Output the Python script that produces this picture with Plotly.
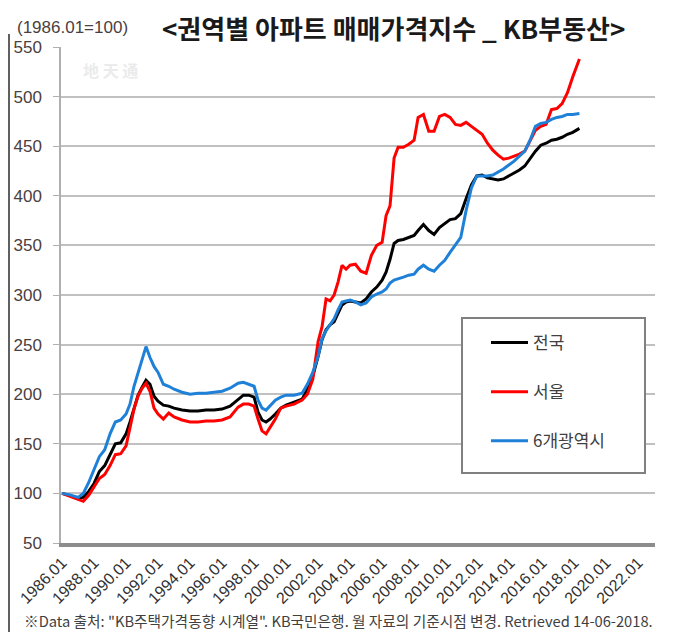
import plotly.graph_objects as go

dates = ["1986-01","1986-07","1987-01","1987-05","1987-09","1988-01","1988-05","1988-09",
         "1989-01","1989-05","1989-09","1990-01","1990-04","1990-07","1990-10","1991-01",
         "1991-04","1991-07","1991-10","1992-01","1992-05","1992-09","1993-01","1993-07",
         "1994-01","1994-07","1995-01","1995-07","1996-01","1996-07","1997-01","1997-05",
         "1997-09","1998-01","1998-04","1998-07","1998-10","1999-01","1999-05","1999-09",
         "2000-01","2000-07","2001-01","2001-05","2001-09","2002-01","2002-04","2002-07",
         "2002-10","2003-01","2003-04","2003-07","2003-10","2004-01","2004-05","2004-09",
         "2005-01","2005-05","2005-09","2006-01","2006-04","2006-07","2006-10","2007-01",
         "2007-05","2007-09","2008-01","2008-04","2008-08","2008-12","2009-04","2009-08",
         "2009-12","2010-04","2010-08","2010-12","2011-04","2011-08","2011-12","2012-04",
         "2012-08","2012-12","2013-04","2013-08","2013-12","2014-04","2014-08","2014-12",
         "2015-04","2015-08","2015-12","2016-04","2016-08","2016-12","2017-04","2017-08",
         "2017-12","2018-03","2018-05"]

national = [100,98,95.5,96,102,110,122,128,
            139,150,151,160,172,186,199,207,
            214,210,198,193,189,188,186,184,
            183,183,184,184,185,188,195,199,
            199,197,182,174,172,175,180,186,
            189,192,195,205,218,238,255,265,
            270,273,282,290,293,294,293,292,
            296,303,308,315,323,336,352,355,
            356,358,360,365,371,365,361,368,
            372,376,377,382,397,411,420,421,
            418,417,416,417,420,423,426,430,
            438,445,451,453,456,457,459,462,
            464,466,468]

seoul = [100,97,94,92,98,106,115,119,
         128,139,140,148,165,185,198,206,
         211,203,186,180,175,181,177,174,
         172,172,173,173,174,177,187,190,
         190,188,175,163,160,167,175,186,
         188,190,194,200,215,253,268,296,
         294,300,313,330,326,330,331,324,
         322,340,350,353,380,390,438,449,
         449,452,456,479,482,465,465,480,
         482,479,472,471,474,470,466,462,
         453,446,441,437,438,440,442,445,
         455,466,470,472,487,488,493,504,
         520,532,538]

metro6 = [100,98.5,96,100,111,125,137,144,
          160,172,174,180,190,208,222,236,
          248,237,228,222,210,208,205,202,
          200,201,201,202,203,206,211,212,
          210,208,194,186,184,188,194,197,
          199,199,201,210,222,238,256,264,
          270,276,285,293,294,295,293,290,
          292,298,301,303,306,312,315,316,
          318,320,321,326,330,326,324,330,
          335,343,350,358,385,408,420,420,
          420,421,424,427,431,435,440,445,
          456,470,473,474,477,479,480,482,
          482,483,483]

series_names = ["전국", "서울", "6개광역시"]
series_colors = ["#000000", "#ff0000", "#1f80d8"]
series_values = [national, seoul, metro6]

y_ticks = [50, 100, 150, 200, 250, 300, 350, 400, 450, 500, 550]

fig = go.Figure()
for name, color, vals in zip(series_names, series_colors, series_values):
    fig.add_trace(go.Scatter(x=dates, y=vals, mode="lines", name=name,
                             legendgroup=name,
                             line=dict(color=color, width=3)))

# page has an 8px body margin; figure sized/offset to compensate
OFF = 8
W, H = 679 - OFF, 642 - 2 * OFF
PX0, PX1, PY0, PY1 = 61, 655, 47, 543   # plot area in page pixels
L, T = PX0 - OFF, PY0 - OFF
R = W - (PX1 - OFF)
B = H - (PY1 - OFF)
pw, ph = PX1 - PX0, PY1 - PY0

def px(x):
    return (x - PX0) / pw

def py(y):
    return (PY1 - y) / ph

fig.update_layout(
    width=W, height=H,
    margin=dict(l=L, r=R, t=T, b=B, autoexpand=False),
    paper_bgcolor="white", plot_bgcolor="white",
    font=dict(family="Liberation Sans, Arial, sans-serif", color="#404040"),
    showlegend=True,
    legend=dict(x=px(486), y=py(325), xanchor="left", yanchor="top",
                bgcolor="rgba(0,0,0,0)", borderwidth=0,
                font=dict(family="Noto Sans CJK KR", size=17, color="#404040"),
                tracegroupgap=24, itemwidth=37, traceorder="grouped"),
    xaxis=dict(type="date", range=["1985-12-08", "2023-01-20"],
               tick0="1986-01-01", dtick="M24", tickformat="%Y.%m",
               tickangle=-45, showgrid=False, showline=True,
               linecolor="#8c8c8c", linewidth=4, ticks="",
               automargin=False,
               tickfont=dict(size=16, color="#303030"), zeroline=False),
    yaxis=dict(range=[50, 550], tickvals=y_ticks, showgrid=True,
               gridcolor="#c0c0c0", gridwidth=1.5, showline=True,
               linecolor="#b0b0b0", linewidth=1.5, ticks="outside",
               ticklen=6, tickcolor="#b0b0b0", zeroline=False,
               ticklabelstandoff=8, automargin=False,
               tickfont=dict(size=17, color="#4a4040")),
)

# legend box (opaque, covers gridlines)
fig.add_shape(type="rect", xref="paper", yref="paper",
              x0=px(462), x1=px(645), y0=py(473), y1=py(318),
              line=dict(color="#808080", width=2), fillcolor="white",
              layer="above")

# left border line (drawn as a thin filled annotation box)
fig.add_annotation(text=" ", xref="paper", yref="paper",
                   x=px(9), y=py(333), xanchor="center", yanchor="middle",
                   width=2, height=598, bgcolor="#606060", borderpad=0,
                   borderwidth=0, showarrow=False,
                   font=dict(size=2))

fig.add_annotation(text="<b>&lt;권역별 아파트 매매가격지수 _ KB부동산&gt;</b>",
                   xref="paper", yref="paper", x=px(393), y=py(28),
                   xanchor="center", yanchor="middle", showarrow=False,
                   font=dict(family="Noto Sans CJK KR", size=26, color="#1a1a1a"))
fig.add_annotation(text="(1986.01=100)", xref="paper", yref="paper",
                   x=px(15), y=py(28), xanchor="left", yanchor="middle",
                   showarrow=False,
                   font=dict(family="Liberation Sans Narrow, Liberation Sans", size=17, color="#4a4040"))
fig.add_annotation(text="<b>地 天 通</b>", xref="paper", yref="paper",
                   x=px(110), y=py(70), xanchor="center", yanchor="middle",
                   showarrow=False,
                   font=dict(family="Noto Sans CJK SC", size=16, color="#ebebeb"))
fig.add_annotation(text="※Data 출처: \"KB주택가격동향 시계열\". KB국민은행. 월 자료의 기준시점 변경. Retrieved 14-06-2018.",
                   xref="paper", yref="paper", x=px(338), y=py(620),
                   xanchor="center", yanchor="middle", showarrow=False,
                   font=dict(family="Noto Sans CJK KR", size=14.7, color="#404040"))

fig.write_html("out.html")
